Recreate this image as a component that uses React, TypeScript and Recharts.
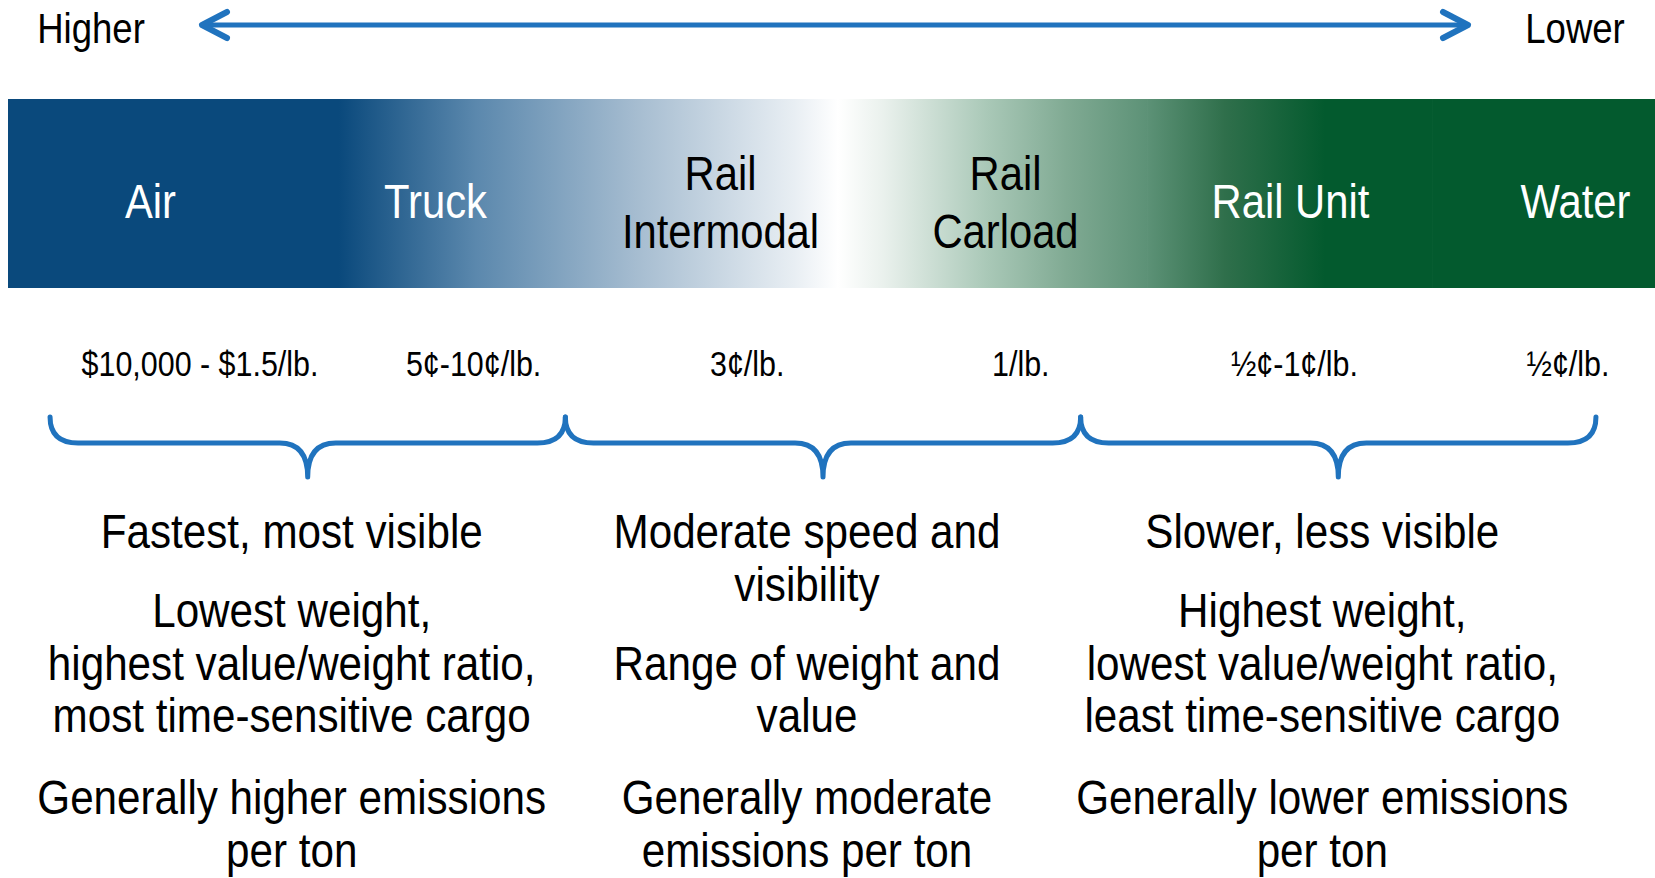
import React from 'react';
import { ComposedChart, Bar, XAxis, YAxis, Scatter, LabelList } from 'recharts';

// ---------- data ----------
const MODES = ['Air', 'Truck', 'Rail\nIntermodal', 'Rail\nCarload', 'Rail Unit', 'Water'];
const PRICES = ['$10,000 - $1.5/lb.', '5¢-10¢/lb.', '3¢/lb.', '1/lb.', '½¢-1¢/lb.', '½¢/lb.'];
const GROUP_SPEED = ['Fastest, most visible', 'Moderate speed and\nvisibility', 'Slower, less visible'];
const GROUP_CARGO = [
  'Lowest weight,\nhighest value/weight ratio,\nmost time-sensitive cargo',
  'Range of weight and\nvalue',
  'Highest weight,\nlowest value/weight ratio,\nleast time-sensitive cargo',
];
const GROUP_EMISSIONS = [
  'Generally higher emissions\nper ton',
  'Generally moderate\nemissions per ton',
  'Generally lower emissions\nper ton',
];
const SCALE_ENDS = ['Higher', 'Lower'];

// ---------- styles / layout ----------
const W = 1655;
const H = 878;
const FONT = "'Liberation Sans', Arial, sans-serif";
const NARROW = 0.87;
const BLUE = '#0A497C';
const GREEN = '#035A2E';
const ACCENT = '#2073BE';
const MODE_TEXT_COLORS = ['#FFFFFF', '#FFFFFF', '#000000', '#000000', '#FFFFFF', '#FFFFFF'];
const MARGIN = { top: 99, right: 2, bottom: H - 288, left: 8 };
const PLOT_W = W - MARGIN.left - MARGIN.right;
const MODE_DOMAIN: [number, number] = [-0.5, 5.272];
const GROUP_DOMAIN: [number, number] = [-0.5816, 2.6107];
const GROUP_STEP_PX = PLOT_W / (GROUP_DOMAIN[1] - GROUP_DOMAIN[0]);
const MODE_ORIGIN_PX = MARGIN.left + (0 - MODE_DOMAIN[0]) * (PLOT_W / (MODE_DOMAIN[1] - MODE_DOMAIN[0]));
// price labels sit on a slightly tighter spread than the mode names
const PRICE_ORIGIN_PX = 200;
const PRICE_SPREAD = 0.96;

const modeData = MODES.map((name, i) => ({ idx: i, name, price: PRICES[i], band: 1 }));
const groupData = GROUP_SPEED.map((speed, i) => ({
  g: i,
  level: 0,
  speed,
  cargo: GROUP_CARGO[i],
  emissions: GROUP_EMISSIONS[i],
}));

// condensed text (Arial-Narrow look) made from Liberation Sans scaled horizontally
const NText = ({ x, y, size, fill = '#000', anchor = 'middle', children }: any) => (
  <text
    transform={`translate(${x},${y}) scale(${NARROW},1)`}
    x={0}
    y={0}
    textAnchor={anchor}
    fontFamily={FONT}
    fontSize={size}
    fill={fill}
  >
    {children}
  </text>
);

const getBox = (props: any) => {
  const vb = props.viewBox && typeof props.viewBox.x === 'number' ? props.viewBox : props;
  return { x: Number(vb.x), y: Number(vb.y), width: Number(vb.width), height: Number(vb.height) };
};

const renderModeName = (props: any) => {
  const { x, y, width, height } = getBox(props);
  const value = String(props.value);
  const lines = value.split('\n');
  const cx = x + width / 2;
  const mid = y + height / 2;
  const idx = MODES.indexOf(value);
  const color = MODE_TEXT_COLORS[idx] ?? '#fff';
  const baselines = lines.length === 1 ? [mid + 24] : [mid - 4, mid + 54];
  return (
    <g>
      {lines.map((ln, i) => (
        <NText key={i} x={cx} y={baselines[i]} size={48} fill={color}>
          {ln}
        </NText>
      ))}
    </g>
  );
};

const renderPrice = (props: any) => {
  const { x, y, width, height } = getBox(props);
  const cx = x + width / 2;
  const px = PRICE_ORIGIN_PX + PRICE_SPREAD * (cx - MODE_ORIGIN_PX);
  return (
    <NText x={px} y={y + height + 88} size={35}>
      {String(props.value)}
    </NText>
  );
};

const LINE_H = 52.5;
const textBlock = (text: string, cx: number, firstBaseline: number, key: string) =>
  text.split('\n').map((ln, i) => (
    <NText key={key + i} x={cx} y={firstBaseline + i * LINE_H} size={48.5}>
      {ln}
    </NText>
  ));

const GroupShape = (props: any) => {
  const { cx, cy, payload } = props;
  if (typeof cx !== 'number' || typeof cy !== 'number') return null;
  const half = GROUP_STEP_PX / 2;
  const x0 = cx - half;
  const x1 = cx + half;
  const yTop = cy + 129;
  const yH = cy + 155;
  const yTip = cy + 189;
  const r = 28;
  const d = `M${x0},${yTop} Q${x0},${yH} ${x0 + r},${yH} L${cx - r},${yH} Q${cx},${yH} ${cx},${yTip} Q${cx},${yH} ${cx + r},${yH} L${x1 - r},${yH} Q${x1},${yH} ${x1},${yTop}`;
  const tx = cx - 16;
  const cargoLines = String(payload.cargo).split('\n').length;
  return (
    <g>
      <path d={d} fill="none" stroke={ACCENT} strokeWidth={5} strokeLinecap="round" strokeLinejoin="round" />
      {textBlock(payload.speed, tx, cy + 260, 's')}
      {textBlock(payload.cargo, tx, cy + 444 - (cargoLines - 1) * LINE_H, 'c')}
      {textBlock(payload.emissions, tx, cy + 526, 'e')}
    </g>
  );
};

export default function App() {
  return (
    <div style={{ position: 'absolute', left: 0, top: 0, width: W, height: H, background: '#fff', overflow: 'hidden' }}>
      <ComposedChart width={W} height={H} data={modeData} margin={MARGIN} barCategoryGap={0} barGap={0}>
        <defs>
          <linearGradient id="modeGrad" gradientUnits="userSpaceOnUse" x1={MARGIN.left} y1={0} x2={W - MARGIN.right} y2={0}>
            <stop offset="0" stopColor={BLUE} />
            <stop offset="0.2012" stopColor={BLUE} />
            <stop offset="0.2845" stopColor="#5B88AD" />
            <stop offset="0.3812" stopColor="#A5BCD0" />
            <stop offset="0.4778" stopColor="#E8EEF3" />
            <stop offset="0.5046" stopColor="#FFFFFF" />
            <stop offset="0.5319" stopColor="#EAF1ED" />
            <stop offset="0.5957" stopColor="#A9C8B7" />
            <stop offset="0.6438" stopColor="#80AA93" />
            <stop offset="0.6918" stopColor="#5D9277" />
            <stop offset="0.7398" stopColor="#2F6F4B" />
            <stop offset="0.8006" stopColor={GREEN} />
            <stop offset="1" stopColor={GREEN} />
          </linearGradient>
        </defs>
        <XAxis xAxisId="mode" type="number" dataKey="idx" domain={MODE_DOMAIN} hide />
        <XAxis xAxisId="group" type="number" dataKey="g" domain={GROUP_DOMAIN} hide />
        <YAxis type="number" domain={[0, 1]} hide />
        <Bar xAxisId="mode" dataKey="band" fill="url(#modeGrad)" isAnimationActive={false}>
          <LabelList dataKey="name" content={renderModeName} />
          <LabelList dataKey="price" content={renderPrice} />
        </Bar>
        <Scatter xAxisId="group" data={groupData} dataKey="level" shape={<GroupShape />} isAnimationActive={false} />
      </ComposedChart>
      <svg width={W} height={90} style={{ position: 'absolute', left: 0, top: 0 }}>
        <NText x={91} y={43} size={42}>{SCALE_ENDS[0]}</NText>
        <NText x={1575} y={43} size={42}>{SCALE_ENDS[1]}</NText>
        <line x1={204} y1={25} x2={1466} y2={25} stroke={ACCENT} strokeWidth={5} />
        <polyline points="227,12 202,25 227,38" fill="none" stroke={ACCENT} strokeWidth={6} strokeLinecap="round" strokeLinejoin="round" />
        <polyline points="1443,12 1468,25 1443,38" fill="none" stroke={ACCENT} strokeWidth={6} strokeLinecap="round" strokeLinejoin="round" />
      </svg>
    </div>
  );
}
